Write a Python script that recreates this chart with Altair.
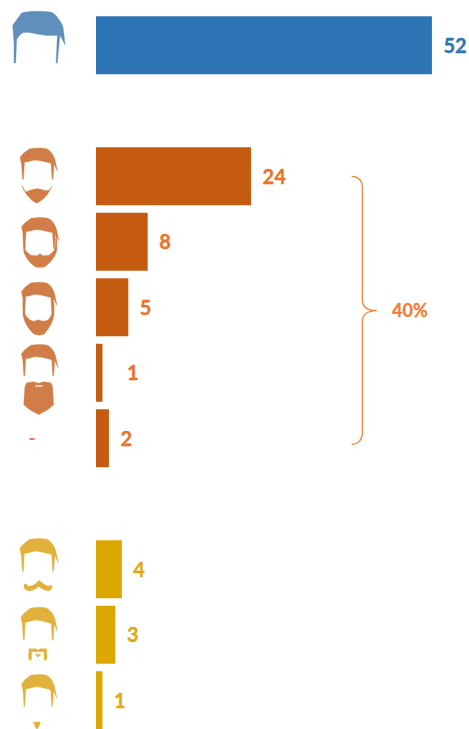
import re
import altair as alt
import pandas as pd

# Rows of the chart, top to bottom; the two gaps separate the groups.
rows = ["clean", "gap_a", "goatee_full", "short_beard", "long_beard", "big_beard",
        "other", "gap_b", "moustache", "handlebar", "soul_patch"]
bar_rows = ["clean", "goatee_full", "short_beard", "long_beard", "big_beard",
            "other", "moustache", "handlebar", "soul_patch"]
counts = [52, 24, 8, 5, 1, 2, 4, 3, 1]
groups = ["blue", "orange", "orange", "orange", "orange", "orange", "gold", "gold", "gold"]

bar_colors = {"blue": "#2E75B6", "orange": "#C55A11", "gold": "#DAA800"}
label_colors = {"blue": "#2E75B6", "orange": "#E8742A", "gold": "#DDAA10"}
icon_colors = {"blue": "#5286B8", "orange": "#CE7338", "gold": "#DFAB2C"}

FONT = "Lato"
LABEL_SIZE = 20

# Icon outlines, in pixels around each icon's centre.
HAIR = ("M -9,-27.5 C -4,-28.5 5,-28.5 8,-27.5 C 13,-25 16,-20 17,-14 L 19,-5 L 15.5,-12 "
        "L 14.5,3 L 13.5,3 L 12.5,-13 C 6,-14.5 0,-16.5 -5,-16 C -9,-15 -12,-14 -14,-14 "
        "L -15,3 L -16,3 L -17,-12 L -18.5,-19 L -15,-23 Z")
BLUE_HAIR = ("M -17.3,-32.3 C -12,-34.5 5,-34.5 12.7,-33 C 16,-31 18,-29 19.3,-26.7 "
             "C 22,-23 24,-20 24.3,-16.7 L 26.2,0 L 21,-10 L 18.3,17.7 L 17,17.7 L 18.3,-10 "
             "C 12,-9.5 7,-9.5 -1,-11 C -6,-12.5 -11,-13 -15.7,-12.7 C -19,-11 -21,-8 -22.3,-5.7 "
             "L -23.3,17.7 L -25,17.7 L -25,-1.7 L -26.3,-20 L -24,-23.3 Z")
GOATEE_BEARD = ("M -16.5,9 C -15,16 -8,24 -1.8,27 C 5,24 11,17 13.2,9.7 L 11,13.7 "
                "C 9,14.5 7,14.5 5,13.7 L -1,12.3 L -8,13.7 L -13,15.7 Z "
                "M -4.5,17.5 L -4,19 L 0.5,19 L 1,17.5 Z")
SHORT_BEARD = ("M -16.8,-8 L -16.5,8 C -16,14 -10,22 -4,25.5 L 4,25.5 C 10,22 16,14 16.9,8 "
               "L 16.9,-8 L 16.2,-8 L 15,7 C 13.5,10 11,12 9,13.5 L 3,14 L 0,12 L -3,14 "
               "L -9,13.5 C -11,12 -14,10 -15.2,7 L -16,-8 Z "
               "M -3,17 L -3,18.3 L 3,18.3 L 3,17 Z")
LONG_BEARD = ("M -16.3,-5 L -16,8 C -15,14 -12,20 -5,27 L 0,28 L 5,27 C 11,20 14,14 15,8 "
              "L 15.2,-5 L 14.6,-5 L 13.4,5 C 12,9 10.5,11.5 8.5,13 L 4,14 L -0.5,12.5 L -5,14 "
              "L -8.5,13 C -12,10.5 -13.5,8 -14.5,5 L -15.7,-5 Z "
              "M -3,16.5 L -3,18 L 2.5,18 L 2.5,16.5 Z")
BIG_BEARD = ("M -12,10 L -5,9 L 0,10.5 L 5,9 L 12,10 C 14,13 14,15 14,16 L 15,32 L 9,37 L 0,42 "
             "L -9,37 L -15,32 L -14,16 C -14,14 -13,12 -12,10 Z "
             "M -3.5,12.5 L -3.5,14 L 4,14 L 4,12.5 Z")
MOUSTACHE = ("M -14.8,16.5 C -15,20 -12,22 -8,21.5 C -5,21 -2,19 0,17 C 2,19 5,21 9,21.5 "
             "C 12,22 14,19 13,16 L 11.5,16 C 10,18 6,16 0.5,11 C -4,16 -9,18 -11.5,16.5 "
             "C -12,14 -15,14 -14.8,16.5 Z")
HANDLEBAR = ("M -10,14 L -3,14 L -1,15.5 L 1,14 L 7.5,14 L 8,24 L 6,26 L 5,24.5 L 5,17 L -7.5,17 "
             "L -7.5,24.5 L -8.5,26 L -10.5,24 Z M -4,19.5 L 2,19.5 L -1,22.5 Z")
SOUL_PATCH = "M -3.7,21.7 L 3.7,21.7 L 1,28 L 0,29 L -1,28 Z"


def place(path, dx=0.0, dy=0.0, sx=1.0, sy=1.0):
    """Move and scale an outline, then express it in symbol units (one unit = 50 px)."""
    def convert(match):
        x = (float(match.group(1)) * sx + dx) / 50
        y = (float(match.group(2)) * sy + dy) / 50
        return f"{x:.4f},{y:.4f}"
    return re.sub(r"(-?\d+\.?\d*),(-?\d+\.?\d*)", convert, path)


icon_rows = ["clean", "goatee_full", "goatee_full", "short_beard", "short_beard",
             "long_beard", "long_beard", "big_beard", "big_beard",
             "moustache", "moustache", "handlebar", "handlebar", "soul_patch", "soul_patch"]
icon_groups = ["blue", "orange", "orange", "orange", "orange", "orange", "orange",
               "orange", "orange", "gold", "gold", "gold", "gold", "gold", "gold"]
icon_paths = [
    place(BLUE_HAIR, 0.5),
    place(HAIR), place(GOATEE_BEARD),
    place(HAIR, 1.5, 4), place(SHORT_BEARD, 1.5),
    place(HAIR, 0.5, 3.3, 0.95, 1), place(LONG_BEARD, 0.5),
    place(HAIR, 1, 0, 0.98, 1), place(BIG_BEARD, 0.2),
    place(HAIR, 0.3, -1, 1.03, 1.05), place(MOUSTACHE, 0.3),
    place(HAIR, 0.5, 2.3, 0.98, 1.05), place(HANDLEBAR, 0.5),
    place(HAIR, 0.5, 3, 0.94, 1.02), place(SOUL_PATCH, -1.5),
]

# Curly brace around the orange group, with its point on the right.
BRACE = ("M -10.6,-134.4 C -4,-134.4 0,-130 0,-124 L 0,-11 C 0,-4 5,0 14.5,0 C 5,0 0,4 0,11 "
         "L 0,122 C 0,129 -4,133.5 -10.6,133.5")

bars = pd.DataFrame({"row": bar_rows, "count": counts, "group": groups})
bars["bar_color"] = bars["group"].map(bar_colors)
bars["label_color"] = bars["group"].map(label_colors)
icons = pd.DataFrame({"row": icon_rows, "path": icon_paths, "group": icon_groups})
icons["color"] = icons["group"].map(icon_colors)

x_scale = alt.Scale(domain=[0, 57.74], range=[96, 469])
y_scale = alt.Scale(domain=rows, range=[16.3, 729.2], paddingInner=0.115, paddingOuter=0)
x_enc = alt.X("count:Q", scale=x_scale, axis=None)
y_enc = alt.Y("row:N", scale=y_scale, axis=None)

bar_layer = alt.Chart(bars).mark_bar(cornerRadius=0).encode(
    x=x_enc, y=y_enc, color=alt.Color("bar_color:N", scale=None)
)


def value_labels(frame_filter, gap):
    """Bold value labels placed a fixed gap to the right of each bar end."""
    return alt.Chart(bars).transform_filter(frame_filter).mark_text(
        font=FONT, fontWeight="bold", fontSize=LABEL_SIZE, align="left", baseline="middle",
        dx=gap, dy=1.5, strokeWidth=0.35
    ).encode(
        x=x_enc, y=y_enc, text="count:Q",
        color=alt.Color("label_color:N", scale=None),
        stroke=alt.Color("label_color:N", scale=None),
    )


labels = value_labels(alt.datum.row != "big_beard", 11.5)
# The single big-beard value sits further from its narrow bar.
offset_label = value_labels(alt.datum.row == "big_beard", 24.5)

icon_layer = alt.Chart(icons).mark_point(
    filled=True, size=10000, opacity=0.92, strokeWidth=1.0, strokeOpacity=0.3
).encode(
    x=alt.value(38.5),
    y=y_enc,
    shape=alt.Shape("path:N", scale=None),
    color=alt.Color("color:N", scale=None),
    stroke=alt.Color("color:N", scale=None),
)

dash = alt.Chart(pd.DataFrame({"row": ["other"], "t": ["-"]})).mark_text(
    font=FONT, fontWeight="bold", fontSize=19, color="#ED7D31", align="center", baseline="middle",
    dy=1
).encode(x=alt.value(32), y=y_enc, text="t:N")

brace = alt.Chart(pd.DataFrame({"path": [place(BRACE)]})).mark_point(
    filled=False, size=10000, strokeWidth=1.3, color="#F0883F", opacity=1
).encode(
    x=alt.value(362.3), y=alt.value(310.7), shape=alt.Shape("path:N", scale=None)
)

share = alt.Chart(pd.DataFrame({"t": ["40%"]})).mark_text(
    font=FONT, fontWeight="bold", fontSize=18, color="#EE7F36", align="left", baseline="middle",
    stroke="#EE7F36", strokeWidth=0.3
).encode(x=alt.value(392), y=alt.value(311.5), text="t:N")

chart = (
    alt.layer(bar_layer, labels, offset_label, icon_layer, dash, brace, share)
    .properties(width=469, height=729, padding=0, autosize=alt.AutoSizeParams(type="none"),
                background="white")
    .configure_view(stroke=None)
)

chart.save("out.html", embed_options={"renderer": "svg", "actions": False})
